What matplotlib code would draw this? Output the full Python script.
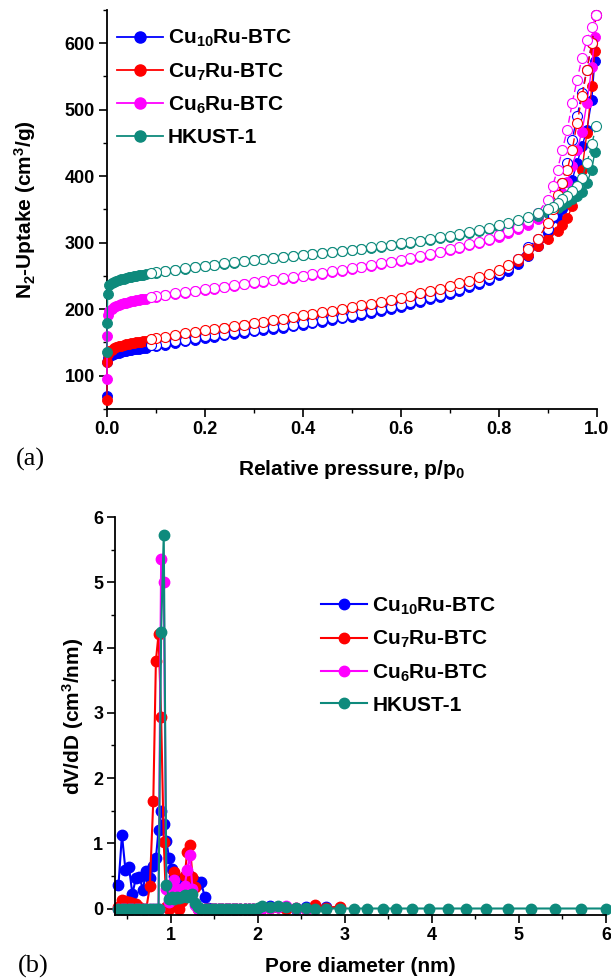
import matplotlib
matplotlib.use('Agg')
import matplotlib.pyplot as plt
from matplotlib.ticker import MultipleLocator
from matplotlib.lines import Line2D

plt.rcParams.update({
    'font.family': ['Liberation Sans', 'DejaVu Sans'],
    'font.weight': 'bold',
    'mathtext.fontset': 'custom',
    'mathtext.rm': 'Liberation Sans:bold',
    'mathtext.bf': 'Liberation Sans:bold',
    'mathtext.it': 'Liberation Sans:bold',
    'mathtext.default': 'bf',
    'axes.linewidth': 1.3,
})

# ---------------- data ----------------
labels = [r'Cu$_{10}$Ru-BTC', r'Cu$_{7}$Ru-BTC', r'Cu$_{6}$Ru-BTC', 'HKUST-1']
colors = ['#0000FF', '#FF0000', '#FF00FF', '#0E8A7C']

p_ads = [0.0005, 0.001, 0.002, 0.005, 0.01, 0.015, 0.02, 0.025, 0.03, 0.035,
         0.04, 0.045, 0.05, 0.055, 0.06, 0.065, 0.07, 0.075, 0.08,
         0.10, 0.12, 0.14, 0.16, 0.18, 0.20, 0.22, 0.24, 0.26, 0.28,
         0.30, 0.32, 0.34, 0.36, 0.38, 0.40, 0.42, 0.44, 0.46, 0.48,
         0.50, 0.52, 0.54, 0.56, 0.58, 0.60, 0.62, 0.64, 0.66, 0.68,
         0.70, 0.72, 0.74, 0.76, 0.78, 0.80, 0.82, 0.84, 0.86, 0.88,
         0.90, 0.92, 0.93, 0.94, 0.95, 0.96, 0.97, 0.98, 0.99, 0.996]

ads_cu10 = [69, 121, 126, 129, 131, 132, 133.5, 134.5, 135.5, 136.5,
            137.5, 138, 139, 139.5, 140, 140.5, 141, 141.5, 142,
            144, 146.5, 149, 151.5, 154, 156.5, 158.5, 160.5, 162.5, 164.5,
            166.5, 168.5, 170.5, 172.5, 174.5, 177, 179, 181.5, 184, 186.5,
            189, 191.5, 194.5, 197.5, 200.5, 204, 207.5, 211, 215, 219,
            223.5, 228, 233, 238.5, 244.5, 251, 258, 268, 280, 295,
            315, 337, 350, 370, 395, 420, 445, 470, 515, 573]
ads_cu7 = [63, 121, 133, 137, 139, 141, 142.5, 144, 145, 146,
           147, 148, 148.5, 149, 150, 150.5, 151, 151.5, 152,
           154, 157, 159.5, 162, 164.5, 167, 169, 171, 173.5, 176,
           178, 180, 182, 184.5, 187, 189, 191.5, 194, 196.5, 199,
           201.5, 204, 207, 209.5, 212.5, 215.5, 218.5, 222, 225.5, 229,
           233, 237, 241, 246, 251, 257, 264, 272, 282, 295,
           305, 318, 326, 337, 355, 375, 410, 465, 535, 588]
ads_cu6 = [95, 160, 192, 197, 200, 203, 205, 206.5, 208, 209,
           210, 211, 212, 213, 213.5, 214, 215, 215.5, 216,
           219, 221, 223, 225, 227, 229, 231, 233, 235, 237.5,
           239.5, 241.5, 243.5, 245.5, 247.5, 249.5, 251.5, 253.5, 256, 258,
           260.5, 263, 265.5, 268, 270.5, 273, 276, 279, 282, 285.5,
           289, 292.5, 296, 300, 304, 309, 314, 320, 327, 335,
           345, 362, 375, 392, 415, 440, 467, 510, 565, 610]
ads_hkust = [135, 180, 223, 236, 239, 241, 243, 244, 245, 246,
             247, 248, 248.5, 249.5, 250, 251, 251.5, 252, 252.5,
             255, 257, 259, 261, 263, 265, 267, 268.5, 270, 272,
             273.5, 275, 276.5, 278, 279.5, 281, 282.5, 284, 285.5, 287,
             288.5, 290, 292, 294, 296, 298, 300, 302, 304, 306.5,
             309, 311.5, 314, 317, 320, 323, 327, 331, 335, 340,
             345, 352, 356, 361, 366, 370, 377, 390, 410, 436]

p_des = [0.999, 0.99, 0.98, 0.97, 0.96, 0.95, 0.94, 0.93, 0.92, 0.91, 0.90,
         0.88, 0.86, 0.84, 0.82, 0.80, 0.78, 0.76, 0.74, 0.72, 0.70,
         0.68, 0.66, 0.64, 0.62, 0.60, 0.58, 0.56, 0.54, 0.52, 0.50,
         0.48, 0.46, 0.44, 0.42, 0.40, 0.38, 0.36, 0.34, 0.32, 0.30,
         0.28, 0.26, 0.24, 0.22, 0.20, 0.18, 0.16, 0.14, 0.12, 0.10, 0.09]

des_cu10 = [642, 600, 560, 525, 490, 455, 420, 390, 365, 340, 320,
            305, 293, 275, 262, 254, 247.5, 241.5, 236, 231, 226.5,
            222, 218, 214, 210.5, 207, 203.5, 200.5, 197.5, 194.5, 191.5,
            189, 186.5, 184, 181.5, 179, 177, 175, 173, 171, 169,
            167, 165, 163, 161, 159, 156.5, 154, 151.5, 149, 146.5, 145.5]
des_cu7 = [642, 600, 560, 520, 480, 440, 410, 390, 372, 350, 330,
           305, 290, 276, 266, 259, 253, 248, 243, 239, 235,
           231, 227.5, 224, 220.5, 217, 214, 211, 208.5, 206, 203,
           200.5, 198, 195.5, 193, 191, 188.5, 186, 184, 181.5, 179.5,
           177, 175, 172.5, 170.5, 168.5, 166, 163.5, 161, 158.5, 156, 155]
des_cu6 = [642, 625, 605, 578, 545, 510, 470, 440, 410, 385, 365,
           345, 333, 324, 317, 311, 306, 301.5, 297.5, 293.5, 290,
           286.5, 283, 280, 277, 274, 271.5, 269, 266.5, 264, 261.5,
           259, 257, 254.5, 252.5, 250.5, 248.5, 246.5, 244.5, 242.5, 240.5,
           238.5, 236, 234, 232, 230, 228, 226, 224, 222, 220, 219]
des_hkust = [476, 448, 420, 398, 385, 378, 370, 366, 360, 354, 350,
             344, 339, 334, 330, 326, 322, 319, 316, 313, 310.5,
             308, 305.5, 303, 301, 299, 297, 295, 293, 291, 289,
             287.5, 286, 284.5, 283, 281.5, 280, 278.5, 277, 275.5, 274,
             272.5, 270.5, 269, 267, 265.5, 263.5, 261.5, 259.5, 257.5, 255.5, 254.5]

pore_d = [0.40, 0.44, 0.48, 0.52, 0.56, 0.60, 0.64, 0.68, 0.72, 0.76, 0.80,
          0.83, 0.86, 0.89, 0.92, 0.95, 0.98, 1.01, 1.04, 1.07, 1.10, 1.13,
          1.16, 1.19, 1.22, 1.25, 1.28, 1.31,
          1.35, 1.39, 1.43, 1.47, 1.51, 1.55, 1.59, 1.63, 1.67, 1.71, 1.75,
          1.80, 1.85, 1.90, 1.95, 2.00, 2.05,
          2.14, 2.23, 2.33, 2.44, 2.55, 2.66, 2.78, 2.94,
          3.10, 3.26, 3.44, 3.59, 3.77, 3.97, 4.18, 4.39, 4.62, 4.87,
          5.14, 5.41, 5.71, 6.00]

psd_cu10 = [0.36, 1.13, 0.59, 0.64, 0.22, 0.47, 0.49, 0.29, 0.58, 0.47, 0.65,
            0.77, 1.20, 1.50, 1.30, 1.04, 0.78, 0.60, 0.50, 0.42, 0.45, 0.38,
            0.48, 0.55, 0.50, 0.45, 0.42, 0.38,
            0.40, 0.18, 0.01, 0, 0, 0, 0, 0, 0, 0, 0,
            0, 0, 0, 0, 0, 0.01,
            0.04, 0.03, 0.02, 0.0, 0.03, 0.02, 0.03]
psd_cu7 = [0.02, 0.13, 0.12, 0.10, 0.08, 0.07, 0.02, 0.0, 0.0, 0.34, 1.65,
           3.80, 4.20, 2.94, 1.02, 0.02, 0.0, 0.30, 0.56, 0.10, 0.0, 0.12,
           0.50, 0.87, 0.97, 0.49, 0.33, 0.0,
           0, 0, 0, 0, 0, 0, 0, 0, 0, 0, 0,
           0, 0, 0, 0, 0, 0.01,
           0.01, 0.02, 0.0, 0.01, 0.0, 0.05, 0.01, 0.03]
psd_cu6 = [0, 0, 0, 0, 0, 0, 0, 0, 0, 0, 0,
           0.0, 0.0, 5.35, 5.00, 0.30, 0.10, 0.20, 0.44, 0.30, 0.25, 0.20,
           0.35, 0.59, 0.82, 0.30, 0.05, 0.0,
           0, 0, 0, 0, 0, 0, 0, 0, 0, 0, 0,
           0, 0, 0, 0, 0, 0.01,
           0.01, 0.02, 0.04, 0.01, 0.0]
psd_hkust = [0, 0, 0, 0, 0, 0, 0, 0, 0, 0, 0,
             0.0, 0.0, 4.24, 5.72, 0.36, 0.15, 0.18, 0.15, 0.17, 0.16, 0.18,
             0.20, 0.18, 0.20, 0.22, 0.08, 0.02,
             0, 0, 0, 0, 0, 0, 0, 0, 0, 0, 0,
             0, 0, 0, 0, 0.01, 0.04,
             0.02, 0.04, 0.02, 0.01, 0.01, 0.0, 0.0, 0.0,
             0, 0, 0, 0, 0, 0, 0, 0, 0, 0, 0, 0, 0, 0]

ads_all = [ads_cu10, ads_cu7, ads_cu6, ads_hkust]
des_all = [des_cu10, des_cu7, des_cu6, des_hkust]
psd_all = [psd_cu10, psd_cu7, psd_cu6, psd_hkust]

# ---------------- figure ----------------
fig = plt.figure(figsize=(6.11, 9.8), dpi=100)
ax1 = fig.add_axes([0.1746, 0.5827, 0.8020, 0.4071])
ax2 = fig.add_axes([0.1882, 0.0663, 0.8036, 0.4061])

# (a) isotherms
for ads, des, c in zip(ads_all, des_all, colors):
    ax1.plot(p_ads, ads, '-', color=c, lw=1.0, marker='o', ms=7.2,
             mfc=c, mec=c, mew=0.6, clip_on=False, zorder=3)
    ax1.plot(p_des, des, '--', color=c, lw=1.0, dashes=(5, 2.5), marker='o',
             ms=7.2, mfc='white', mec=c, mew=0.8, clip_on=False, zorder=4)

ax1.set_xlim(0, 1.0)
ax1.set_ylim(50, 650)
ax1.xaxis.set_major_locator(MultipleLocator(0.2))
ax1.xaxis.set_minor_locator(MultipleLocator(0.1))
ax1.yaxis.set_major_locator(MultipleLocator(100))
ax1.yaxis.set_minor_locator(MultipleLocator(50))
ax1.set_yticks([100, 200, 300, 400, 500, 600])

handles = [Line2D([], [], color=c, lw=1.3, marker='o', ms=8, mfc=c, mec=c)
           for c in colors]
ax1.legend(handles, labels, loc='upper left', bbox_to_anchor=(0.021, 0.955),
           frameon=False, fontsize=15, handlelength=2.2, handletextpad=0.25,
           labelspacing=0.58, borderpad=0, borderaxespad=0)

ax1.set_xlabel(r'Relative pressure, p/p$_0$', fontsize=15, fontweight='bold')
ax1.set_ylabel(r'N$_2$-Uptake (cm$^3$/g)', fontsize=15, fontweight='bold')
ax1.xaxis.set_label_coords(0.5, -0.122)
ax1.yaxis.set_label_coords(-0.14, 0.5)

# (b) pore size distribution
for vals, c, lab in zip(psd_all, colors, labels):
    ax2.plot(pore_d[:len(vals)], vals, '-', color=c, lw=1.5, marker='o',
             ms=7.5, mfc=c, mec=c, label=lab, clip_on=False)

ax2.set_xlim(0.36, 6.0)
ax2.set_ylim(-0.1, 6.0)
ax2.xaxis.set_major_locator(MultipleLocator(1))
ax2.xaxis.set_minor_locator(MultipleLocator(0.5))
ax2.yaxis.set_major_locator(MultipleLocator(1))
ax2.yaxis.set_minor_locator(MultipleLocator(0.5))
ax2.set_xticks([1, 2, 3, 4, 5, 6])
ax2.set_yticks([0, 1, 2, 3, 4, 5, 6])

ax2.legend(loc='upper left', bbox_to_anchor=(0.42, 0.803), frameon=False,
           fontsize=15, handlelength=2.2, handletextpad=0.25,
           labelspacing=0.58, borderpad=0, borderaxespad=0)

ax2.set_xlabel('Pore diameter (nm)', fontsize=15, fontweight='bold')
ax2.set_ylabel(r'dV/dD (cm$^3$/nm)', fontsize=15, fontweight='bold')
ax2.xaxis.set_label_coords(0.5, -0.105)
ax2.yaxis.set_label_coords(-0.06, 0.5)

for ax in (ax1, ax2):
    ax.spines['top'].set_visible(False)
    ax.spines['right'].set_visible(False)
    ax.tick_params(which='major', direction='out', length=5.5, width=1.2,
                   labelsize=13, pad=3)
    ax.tick_params(which='minor', direction='out', length=3, width=1.0)
    for t in ax.get_xticklabels() + ax.get_yticklabels():
        t.set_fontweight('bold')

fig.text(30 / 611, 1 - 459 / 980, '(a)', ha='center', va='center',
         family=['Liberation Serif', 'DejaVu Serif'], fontweight='normal',
         fontsize=19)
fig.text(33 / 611, 1 - 966 / 980, '(b)', ha='center', va='center',
         family=['Liberation Serif', 'DejaVu Serif'], fontweight='normal',
         fontsize=19)

fig.savefig('out.png', dpi=100)
